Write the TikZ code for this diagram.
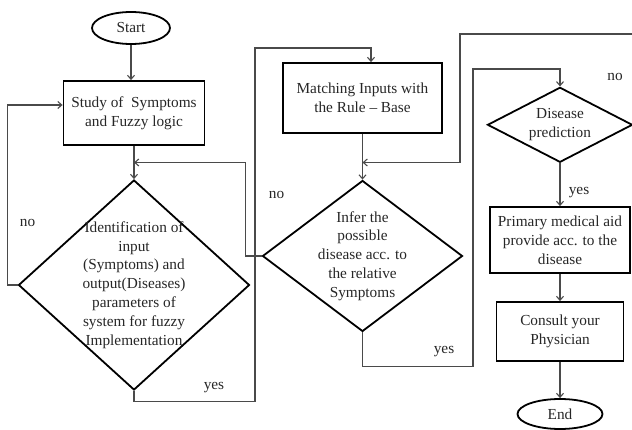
\documentclass[tikz,border=0pt]{standalone}
\usepackage{fontspec}
\setmainfont{Liberation Serif}
\usetikzlibrary{shapes.geometric,arrows.meta,calc}
\definecolor{txt}{HTML}{262626}
\definecolor{lin}{HTML}{4A4A4A}
\begin{document}
\begin{tikzpicture}[x=1pt,y=-1pt,
  font=\fontsize{15.3}{18.8}\selectfont,
  box/.style={draw=black,line width=1.8pt,rectangle,inner sep=0pt,align=center,text=txt},
  dia/.style={draw=black,line width=1.8pt,diamond,inner sep=0pt},
  oval/.style={draw=black,line width=1.8pt,ellipse,inner sep=0pt,text=txt},
  conn/.style={draw=lin,line width=1.1pt,-{Straight Barb[length=4pt,width=7pt]}},
  lbl/.style={text=txt,inner sep=0pt,anchor=base},
  dtext/.style={text=txt,inner sep=0pt,align=center}]
\useasboundingbox (0,0) rectangle (632,430);
\clip (0,0) rectangle (632,430);

% nodes
\node[oval,minimum width=78pt,minimum height=32pt] (start) at (131,28) {Start};
\node[box,minimum width=141pt,minimum height=64pt] (study) at (134,113) {Study of~ Symptoms\\and Fuzzy logic};
\node[dia,minimum width=231pt,minimum height=210pt,
  label={[dtext]center:{Identification of\\input\\(Symptoms) and\\output(Diseases)\\parameters of\\system for fuzzy\\Implementation}}] (d1) at (134,285) {};
\node[box,minimum width=159pt,minimum height=70pt] (match) at (362.5,98) {Matching Inputs with\\the Rule – Base};
\node[dia,minimum width=200pt,minimum height=151pt,
  label={[dtext]center:{Infer the\\possible\\disease acc. to\\the relative\\Symptoms}}] (d2) at (362.5,256) {};
\node[dia,minimum width=145pt,minimum height=75pt,
  label={[dtext]center:{Disease\\prediction}}] (d3) at (560,124.8) {};
\node[box,minimum width=140pt,minimum height=66pt] (prim) at (560,240) {Primary medical aid\\provide acc. to the\\disease};
\node[box,minimum width=127pt,minimum height=59pt] (cons) at (560,331.5) {Consult your\\Physician};
\node[oval,minimum width=85pt,minimum height=30pt] (end) at (560,414) {End};

% labels
\node[lbl] (no1) at (27.5,226.5) {no};
\node[lbl] (yes1) at (214,389.5) {yes};
\node[lbl] (no2) at (276.5,198.5) {no};
\node[lbl] (yes2) at (444,353.5) {yes};
\node[lbl] (no3) at (615,80.5) {no};
\node[lbl] (yes3) at (579,194.5) {yes};

% helper coordinates
\coordinate (s1) at ($(study.west)+(0,-8)$);
\coordinate (m1) at ($(match.north)+(8.5,0)$);
\coordinate (j1) at ($(study.south)!0.5!(d1.north)$);
\coordinate (j2) at (match.south |- j1);

% connectors
\draw[conn] (start.south) -- (start.south |- study.north);
\draw[conn] (study.south) -- (d1.north);
\draw[conn] (d1.west) -- ++(-10,0) |- (s1);
\draw[conn] (d1.south) -- ++(0,11) -| (255,48) -| (m1);
\draw[conn] (match.south) -- (d2.north);
\draw[conn] (d2.west) -- ++(-16.5,0) |- (j1);
\draw[conn] (d2.south) -- ++(0,34) -| (473,69) -| (d3.north);
\draw[conn] (d3.east) -- ++(12,0) |- (460,34) |- (j2);
\draw[conn] (d3.south) -- (prim.north);
\draw[conn] (prim.south) -- (cons.north);
\draw[conn] (cons.south) -- (end.north);
\end{tikzpicture}
\end{document}
